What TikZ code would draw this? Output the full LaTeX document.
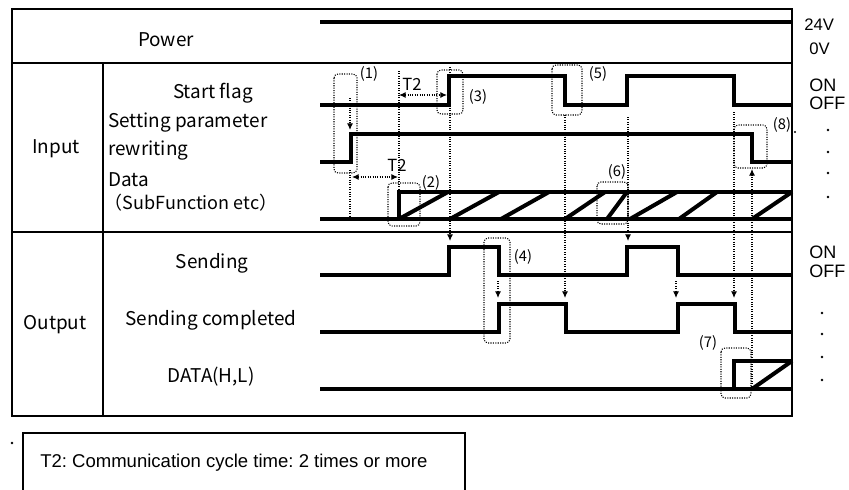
\documentclass[tikz,border=0pt]{standalone}
\usepackage{fontspec}
\setmainfont{Liberation Sans}
\newfontfamily\jp{Noto Sans CJK JP}
\usetikzlibrary{arrows.meta}
\frenchspacing
\begin{document}
\begin{tikzpicture}[x=0.75pt,y=-0.75pt,
  sig/.style={line width=3pt, line join=miter, line cap=butt},
  frame/.style={line width=1.7pt},
  dots/.style={densely dotted, line width=0.8pt},
  dbox/.style={densely dotted, line width=0.8pt, rounded corners=3pt},
  tip/.style={-{Latex[length=5pt,width=4.5pt]}},
  tips/.style={{Latex[length=5pt,width=4.5pt]}-{Latex[length=5pt,width=4.5pt]}},
  lbl/.style={font=\jp\fontsize{14.2}{16}\selectfont, inner sep=0},
  num/.style={font=\jp\fontsize{11}{12}\selectfont, inner sep=0},
  tlbl/.style={font=\jp\fontsize{12.5}{14}\selectfont, inner sep=0},
  side/.style={font=\fontsize{12.5}{14}\selectfont, inner sep=0, anchor=west},
  sidebig/.style={font=\fontsize{13.5}{15}\selectfont, inner sep=0, anchor=west}]
\useasboundingbox (0,0) rectangle (849,489);
% frame
\draw[frame] (12,9) rectangle (792,416);
\draw[frame] (12,63) -- (792,63);
\draw[frame] (12,232) -- (792,232);
\draw[frame] (103,63) -- (103,416);
% left labels
\node[lbl] (power) at (166,40) {Power};
\node[lbl] (input) at (56,149) {Input};
\node[lbl] (start) at (213,93) {Start flag};
\node[lbl,anchor=west] (setp) at (108,123) {Setting parameter};
\node[lbl,anchor=west] (rewr) at (108,151) {rewriting};
\node[lbl,anchor=west] (data) at (108,180) {Data};
\node[font=\jp\fontsize{13.5}{15}\selectfont, inner sep=0] (subf) at (191,203) {（SubFunction etc）};
\node[lbl] (output) at (55,325) {Output};
\node[lbl] (send) at (212,263) {Sending};
\node[lbl] (sendc) at (211,320) {Sending completed};
\node[lbl] (dhl) at (211,377) {DATA(H,L)};
% right labels
\node[side] (v24) at (804,25) {24V};
\node[side] (v0) at (809,49) {0V};
\node[sidebig] (on1) at (809,85) {ON};
\node[sidebig] (off1) at (809,103) {OFF};
\node[sidebig] (on2) at (809,252) {ON};
\node[sidebig] (off2) at (809,271) {OFF};
\foreach \yy in {130,152,173,197} \fill (828,\yy) circle (1pt);
\foreach \yy in {313,334,357,380} \fill (822,\yy) circle (1pt);
\fill (795,132) circle (0.8pt);
\fill (12,443) circle (1pt);
% signals
\draw[sig] (320,22) -- (792,22);
\draw[sig] (320,105) -- (449,105) -- (449,76) -- (565,76) -- (565,105) -- (627,105) -- (627,76) -- (734,76) -- (734,105) -- (792,105);
\draw[sig] (320,162) -- (351,162) -- (351,134) -- (752,134) -- (752,162) -- (792,162);
\draw[sig] (320,219) -- (792,219);
\draw[sig] (399,219) -- (399,192) -- (792,192);
\foreach \a/\b in {399/448,450/499,501/549,565/605,607/627,630/677,679/717,752/792}
  \draw[sig] (\a,219) -- (\b,192);
\draw[sig] (320,275) -- (449,275) -- (449,247) -- (499,247) -- (499,275) -- (627,275) -- (627,247) -- (678,247) -- (678,275) -- (792,275);
\draw[sig] (320,332) -- (499,332) -- (499,304) -- (566,304) -- (566,332) -- (678,332) -- (678,304) -- (735,304) -- (735,332) -- (792,332);
\draw[sig] (320,389) -- (792,389);
\draw[sig] (734,391) -- (734,361) -- (792,361);
\draw[sig] (752,389) -- (792,361);
% dotted boxes
\draw[dbox] (334,74) rectangle (357,173);
\draw[dbox] (388,183) rectangle (420,226);
\draw[dbox] (437,70) rectangle (463,114);
\draw[dbox] (484,238) rectangle (510,343);
\draw[dbox] (552,65) rectangle (582,115);
\draw[dbox] (597,182) rectangle (628,224);
\draw[dbox] (721,348) rectangle (751,398);
\draw[dbox] (734,125) rectangle (767,168);
% numbers
\node[num] (n1) at (369,74) {(1)};
\node[num] (n2) at (431,183) {(2)};
\node[num] (n3) at (478,97) {(3)};
\node[num] (n4) at (523,257) {(4)};
\node[num] (n5) at (598,74) {(5)};
\node[num] (n6) at (617,172) {(6)};
\node[num] (n7) at (708,343) {(7)};
\node[num] (n8) at (782,125) {(8)};
% dotted lines and arrows
\draw[dots,tip] (350,98) -- (350,130);
\draw[dots] (350,170) -- (350,219);
\draw[dots] (399,71) -- (399,192);
\draw[dots,tips] (399,95) -- (447,95);
\node[tlbl] (t2a) at (412,84) {T2};
\draw[dots,tips] (352,177) -- (398,177);
\node[tlbl] (t2b) at (397,165) {T2};
\draw[dots,tip] (450,67) -- (450,241);
\draw[dots,tip] (565,115) -- (565,298);
\draw[dots,tip] (628,117) -- (628,241);
\draw[dots,tip] (498,281) -- (498,298);
\draw[dots,tip] (676,281) -- (676,298);
\draw[dots,tip] (734,112) -- (734,298);
\draw[dots,tip] (752,389) -- (752,169);
% note box
\draw[line width=1pt] (23,495) -- (23,433) -- (465,433) -- (465,495);
\node[font=\fontsize{13.9}{16}\selectfont, anchor=west, inner sep=0] (note) at (40,463) {T2: Communication cycle time: 2 times or more};
\end{tikzpicture}
\end{document}
